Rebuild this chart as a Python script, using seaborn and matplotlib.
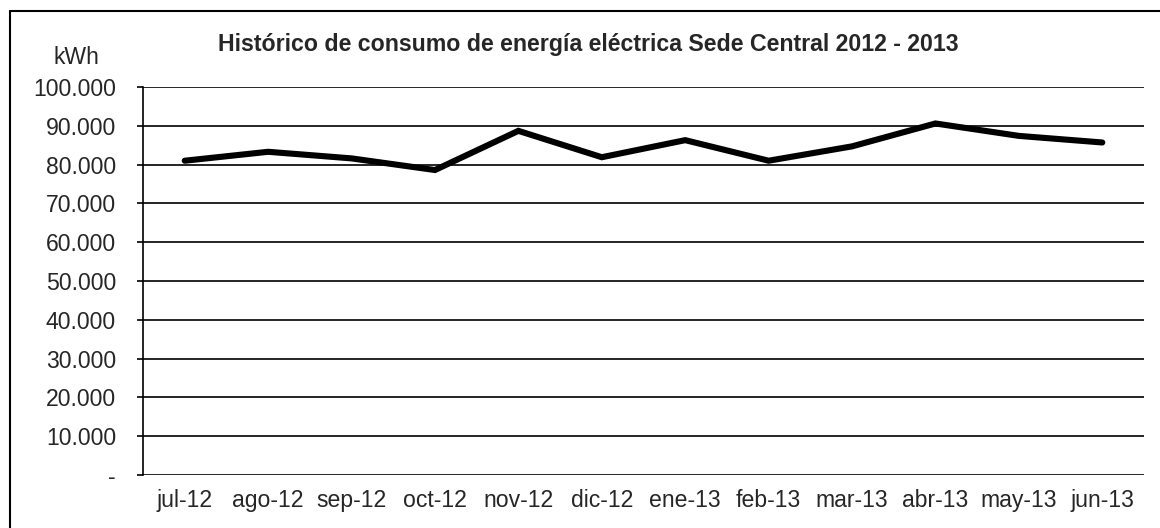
"""
Histórico de consumo de energía eléctrica, Sede Central 2012 - 2013
"""

# %% ---- Requirements and constants
import matplotlib
matplotlib.use("Agg")
import matplotlib.pyplot as plt
from matplotlib.ticker import FuncFormatter, MultipleLocator
from matplotlib.lines import Line2D
import pandas as pd
import seaborn as sns

months = ["jul-12", "ago-12", "sep-12", "oct-12", "nov-12", "dic-12",
          "ene-13", "feb-13", "mar-13", "abr-13", "may-13", "jun-13"]
consumo_kwh = [81000, 83300, 81600, 78600, 88700, 81900,
               86300, 81000, 84700, 90600, 87400, 85700]

title = "Histórico de consumo de energía eléctrica Sede Central 2012 - 2013"
y_unit = "kWh"


# %% ---- Function and class
def miles(v, pos):
    # spanish style thousands, zero shown as a dash
    if abs(v) < 1:
        return "-"
    return f"{v:,.0f}".replace(",", ".")


# %% ---- Play ground
sns.set_style("white")
plt.rcParams["font.family"] = ["Liberation Sans", "DejaVu Sans"]

df = pd.DataFrame({"mes": months, "kwh": consumo_kwh})

fig = plt.figure(figsize=(11.6, 5.28), dpi=100)
ax = fig.add_axes([143 / 1160, 1 - 475 / 528, (1144 - 143) / 1160, (475 - 87) / 528])

sns.lineplot(data=df, x="mes", y="kwh", ax=ax, color="black",
             linewidth=4.4, sort=False, solid_joinstyle="miter")

ax.set_xlim(-0.5, len(months) - 0.5)
ax.set_ylim(0, 100000)
ax.yaxis.set_major_locator(MultipleLocator(10000))
ax.yaxis.set_major_formatter(FuncFormatter(miles))
ax.grid(axis="y", color="black", linewidth=1.2)
ax.grid(axis="x", visible=False)
ax.set_xlabel("")
ax.set_ylabel("")

for side in ["top", "right", "bottom"]:
    ax.spines[side].set_visible(False)
ax.spines["left"].set_color("black")
ax.spines["left"].set_linewidth(1.2)

ax.tick_params(axis="y", direction="out", length=4.5, width=1.2,
               color="black", pad=15, labelsize=16.6, left=True)
ax.tick_params(axis="x", length=0, pad=10, labelsize=16.6)

fig.text(588 / 1160, 1 - 45 / 528, title, ha="center", va="center",
         fontsize=16.7, fontweight="bold")
fig.text(76 / 1160, 1 - 57 / 528, y_unit, ha="center", va="center",
         fontsize=16.6)

# frame round the chart area (only top and left edges are in the picture)
fig.add_artist(Line2D([10 / 1160, 1.0], [1 - 11 / 528, 1 - 11 / 528],
                      transform=fig.transFigure, color="black", linewidth=1.5))
fig.add_artist(Line2D([10 / 1160, 10 / 1160], [1 - 11 / 528, 0.0],
                      transform=fig.transFigure, color="black", linewidth=1.5))

fig.savefig("out.png", dpi=100)
